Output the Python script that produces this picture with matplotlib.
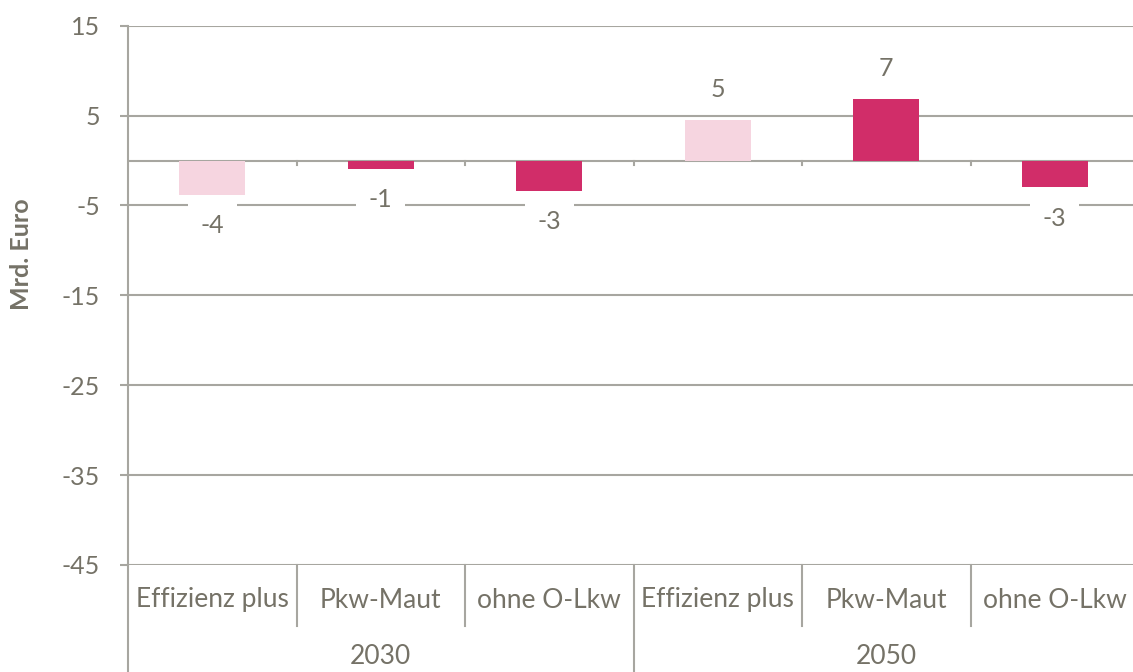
import matplotlib.pyplot as plt
from matplotlib.transforms import blended_transform_factory

# data
categories = ["Effizienz plus", "Pkw-Maut", "ohne O-Lkw",
              "Effizienz plus", "Pkw-Maut", "ohne O-Lkw"]
years = ["2030", "2050"]
values = [-3.8, -0.9, -3.4, 4.5, 6.8, -3.0]
labels = ["-4", "-1", "-3", "5", "7", "-3"]
bar_colors = ["#f6d5e0", "#d12d69", "#d12d69", "#f6d5e0", "#d12d69", "#d12d69"]
yticks = [15, 5, -5, -15, -25, -35, -45]

txt = "#757267"
grid = "#a7a6a0"
plt.rcParams['font.family'] = ['Lato', 'DejaVu Sans']

fig = plt.figure(figsize=(11.33, 6.72), dpi=100)
W, H = 1133, 672
left, right, top, bottom = 128, 1139, 25.7, 565
ax = fig.add_axes([left / W, 1 - bottom / H, (right - left) / W, (bottom - top) / H])

x = list(range(len(values)))
ax.bar(x, values, width=0.39, color=bar_colors, zorder=3)

ax.set_xlim(-0.5, 5.5)
ax.set_ylim(-45, 15)
ax.set_yticks(yticks)
ax.set_yticklabels([str(t) for t in yticks])
ax.tick_params(axis='y', length=6, width=1.5, color=grid, pad=14,
               labelsize=18, labelcolor=txt)
ax.set_xticks([])
for t in yticks:
    ax.axhline(t, color=grid, lw=1.5, zorder=1)
ax.axhline(0, color=grid, lw=1.5, zorder=2)
for sp in ["top", "right", "bottom"]:
    ax.spines[sp].set_visible(False)
ax.spines["left"].set_color(grid)
ax.spines["left"].set_linewidth(1.5)

# small ticks on the zero line between categories
for b in [0.5, 1.5, 2.5, 3.5, 4.5]:
    ax.plot([b, b], [0, -0.55], color=grid, lw=1.5, zorder=2)

# value labels
for xi, v, lab in zip(x, values, labels):
    off = 22 if v > 0 else -22
    ax.annotate(lab, (xi, v), xytext=(0, off), textcoords="offset points",
                ha="center", va="center", fontsize=18, color=txt, zorder=4,
                bbox=dict(boxstyle="square,pad=0.5", fc="white", ec="none"))

# category axis
tr = blended_transform_factory(ax.transData, ax.transAxes)
h = bottom - top
for b in [0.5, 1.5, 3.5, 4.5]:
    ax.plot([b, b], [0, -61 / h], color=grid, lw=1.5, transform=tr, clip_on=False)
for b in [-0.5, 2.5, 5.5]:
    ax.plot([b, b], [0, -107 / h], color=grid, lw=1.5, transform=tr, clip_on=False)
for xi, c in zip(x, categories):
    ax.text(xi, -35 / h, c, transform=tr, ha="center", va="center",
            fontsize=19, color=txt)
for i, yr in enumerate(years):
    ax.text(3 * i + 1, -92 / h, yr, transform=tr, ha="center", va="center",
            fontsize=19, color=txt)

fig.text(22 / W, 1 - 254 / H, "Mrd. Euro", rotation=90, ha="center", va="center",
         fontsize=18, fontweight="bold", color=txt)

fig.savefig("out.png", dpi=100)
